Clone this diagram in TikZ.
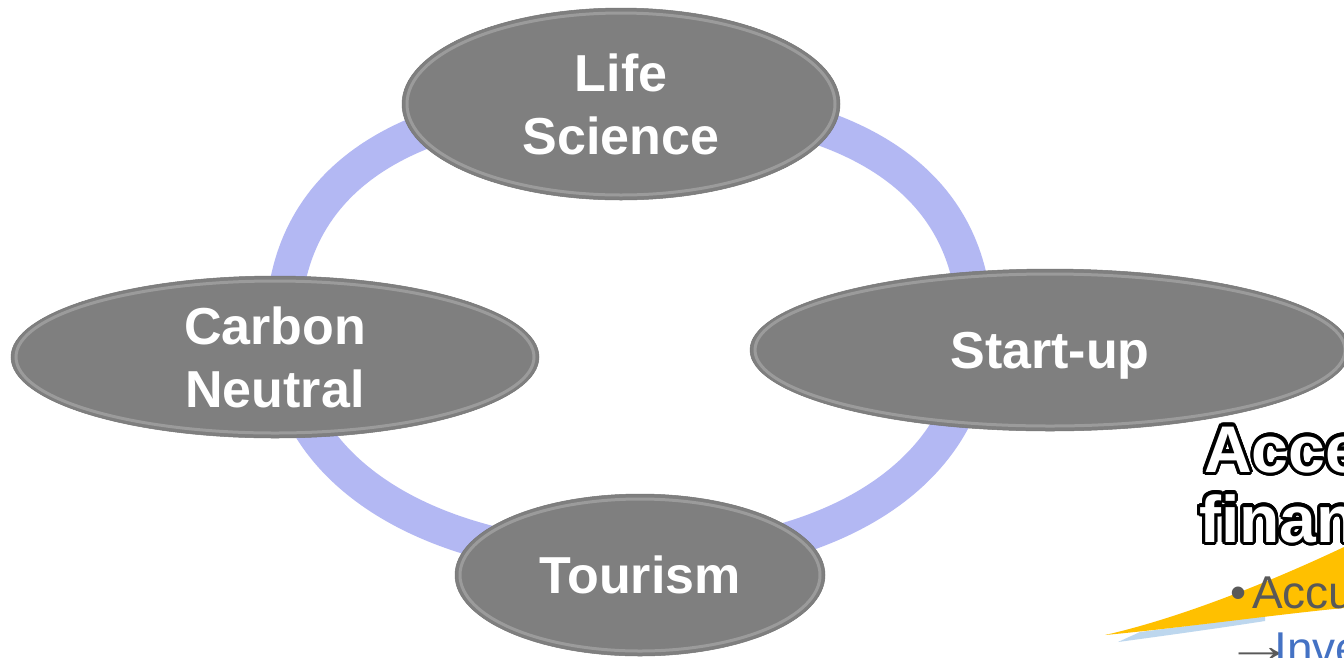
\documentclass[tikz,border=0pt]{standalone}
\usepackage{fontspec}
\setmainfont{Liberation Sans}
\usepackage{graphicx}
\usepackage[copies]{contour}
\contournumber{24}
\usetikzlibrary{shapes.geometric}
\definecolor{ringc}{HTML}{B3B8F3}
\definecolor{bub}{HTML}{7F7F7F}
\definecolor{swy}{HTML}{FFC000}
\definecolor{swb}{HTML}{BDD7EE}
\definecolor{txtg}{HTML}{595959}
\definecolor{linkb}{HTML}{4472C4}
\begin{document}
\begin{tikzpicture}[x=1pt,y=-1pt,
  bubble/.style={ellipse, fill=bub, draw=bub!92!black, line width=0.5pt, inner sep=0pt,
    text=white, align=center, font=\bfseries\fontsize{52}{63}\selectfont},
  hilite/.style={draw=white, line width=3pt, opacity=0.22},
  ringline/.style={draw=ringc, line width=35pt},
  bigtxt/.style={anchor=base west, inner sep=0pt, font=\bfseries\fontsize{66}{70}\selectfont},
  bodytxt/.style={anchor=base west, inner sep=0pt, font=\fontsize{46}{55}\selectfont}]
\useasboundingbox (0,0) rectangle (1344,657);
\clip (0,0) rectangle (1344,657);
\fill[white] (0,0) rectangle (1344,657);

% ring
\coordinate (rl) at (283,330);
\coordinate (rt) at (625,100);
\coordinate (rr) at (975,330);
\coordinate (rb) at (635,560);
\draw[ringline] (rl) .. controls (283,180) and (403,100) .. (rt)
  .. controls (852,100) and (975,180) .. (rr)
  .. controls (975,468) and (839,560) .. (rb)
  .. controls (424,560) and (283,468) .. (rl) -- cycle;

\newcommand\bubblenode[7]{%
  \node[bubble, minimum width={2*#4*1pt}, minimum height={2*#5*1pt}, #7] (#1) at (#2,#3) {#6};
  \draw[hilite] (#2,#3) ellipse [x radius={(#4-5)*1pt}, y radius={(#5-5)*1pt}];
}

\bubblenode{life}{621}{104}{219}{96}{Life\\Science}{}
\bubblenode{carbon}{275}{357}{264}{81}{Carbon\\Neutral}{}
\bubblenode{startup}{1050}{350}{300}{81}{Start-up}{text depth=0pt}
\bubblenode{tourism}{640}{575}{185}{81}{Tourism}{}

% swoosh
\fill[swb] (1118,642) .. controls (1170,635) and (1220,628) .. (1265,621)
  -- (1265,616) -- (1140,632) -- cycle;
\fill[swy] (1105,635) .. controls (1180,618) and (1270,582) .. (1344,547)
  -- (1344,608) .. controls (1280,614) and (1180,628) .. (1105,635) -- cycle;

% right text
\node[bigtxt, text=white] (acce) at (1204,472) {\contourlength{3.2pt}\contour{black}{Acce}};
\node[bigtxt, text=white] (finan) at (1199,542) {\contourlength{3.2pt}\contour{black}{finan}};

\node[bodytxt, text=txtg] (accu) at (1230,608) {\textbullet\hspace{6pt}Accu};
\node[bodytxt, text=txtg] (arr) at (1224,661) {\scalebox{1.55}[1]{→}};
\node[bodytxt, text=linkb] (inve) at (1274,664) {Inve};
\end{tikzpicture}
\end{document}
